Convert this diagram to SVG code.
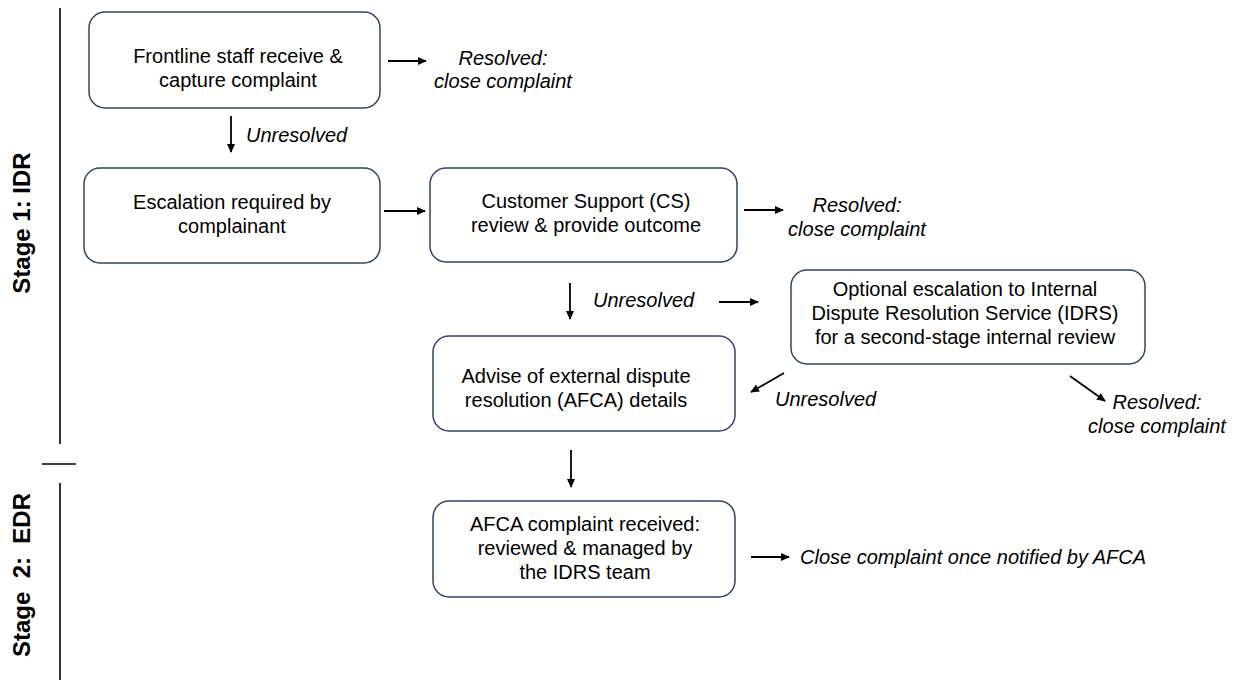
<svg xmlns="http://www.w3.org/2000/svg" width="1237" height="680" viewBox="0 0 1237 680">
<style>
.box{fill:#ffffff;stroke:#2f4468;stroke-width:1.5}
.t{font-family:"Liberation Sans",Arial,sans-serif;font-size:20px;fill:#000;text-anchor:middle}
.i{font-family:"Liberation Sans",Arial,sans-serif;font-size:20px;font-style:italic;fill:#000}
.c{text-anchor:middle}
.stage{font-family:"Liberation Sans",Arial,sans-serif;font-size:24px;font-weight:bold;fill:#000;text-anchor:middle}
.ln{stroke:#000;stroke-width:1.6;fill:none}
.arr{stroke:#000;stroke-width:1.8;fill:none;marker-end:url(#ah)}
</style>
<defs>
<marker id="ah" viewBox="0 0 10 10" refX="9" refY="5" markerWidth="5" markerHeight="5" orient="auto" markerUnits="strokeWidth">
<path d="M0,0.5 L10,5 L0,9.5 z" fill="#000"/>
</marker>
</defs>
<rect width="1237" height="680" fill="#ffffff"/>

<g id="stages">
<line class="ln" x1="60" y1="8" x2="60" y2="444"/>
<line class="ln" x1="42" y1="464" x2="76" y2="464"/>
<line class="ln" x1="60" y1="483" x2="60" y2="680"/>
<text class="stage" transform="translate(30,223) rotate(-90)">Stage 1: IDR</text>
<text class="stage" xml:space="preserve" transform="translate(30,575) rotate(-90)">Stage  2:  EDR</text>
</g>

<g id="n1">
<rect class="box" x="89" y="12" width="291" height="96" rx="16"/>
<text class="t" x="238" y="63">Frontline staff receive &amp;</text>
<text class="t" x="238" y="87">capture complaint</text>
</g>
<g id="n1r">
<text class="i c" x="503" y="65">Resolved:</text>
<text class="i c" x="503" y="88">close complaint</text>
</g>

<g id="n2">
<rect class="box" x="84" y="168" width="296" height="95" rx="16"/>
<text class="t" x="232" y="209">Escalation required by</text>
<text class="t" x="232" y="233">complainant</text>
</g>

<g id="n3">
<rect class="box" x="430" y="168" width="307" height="94" rx="16"/>
<text class="t" x="586" y="208">Customer Support (CS)</text>
<text class="t" x="586" y="232">review &amp; provide outcome</text>
</g>
<g id="n3r">
<text class="i c" x="857" y="212">Resolved:</text>
<text class="i c" x="857" y="236">close complaint</text>
</g>

<g id="n4">
<rect class="box" x="791" y="270" width="354" height="94" rx="16"/>
<text class="t" x="965" y="296">Optional escalation to Internal</text>
<text class="t" x="965" y="320">Dispute Resolution Service (IDRS)</text>
<text class="t" x="965" y="344">for a second-stage internal review</text>
</g>
<g id="n4r">
<text class="i c" x="1157" y="409">Resolved:</text>
<text class="i c" x="1157" y="433">close complaint</text>
</g>

<g id="n5">
<rect class="box" x="433" y="336" width="302" height="95" rx="16"/>
<text class="t" x="576" y="383">Advise of external dispute</text>
<text class="t" x="576" y="407">resolution (AFCA) details</text>
</g>

<g id="n6">
<rect class="box" x="433" y="501" width="302" height="96" rx="16"/>
<text class="t" x="585" y="531">AFCA complaint received:</text>
<text class="t" x="585" y="555">reviewed &amp; managed by</text>
<text class="t" x="585" y="579">the IDRS team</text>
</g>
<g id="n6r">
<text class="i" x="800" y="564">Close complaint once notified by AFCA</text>
</g>

<g id="connectors">
<line class="arr" x1="388" y1="61" x2="426" y2="61"/>
<line class="arr" x1="231" y1="116" x2="231" y2="152"/>
<text class="i" x="246" y="142">Unresolved</text>
<line class="arr" x1="384" y1="211" x2="425" y2="211"/>
<line class="arr" x1="744" y1="210" x2="783" y2="210"/>
<line class="arr" x1="570" y1="283" x2="570" y2="319"/>
<text class="i" x="593" y="307">Unresolved</text>
<line class="arr" x1="719" y1="302" x2="758" y2="302"/>
<line class="arr" x1="784" y1="373" x2="751" y2="392"/>
<text class="i" x="775" y="406">Unresolved</text>
<line class="arr" x1="1070" y1="376" x2="1105" y2="401"/>
<line class="arr" x1="571" y1="450" x2="571" y2="487"/>
<line class="arr" x1="751" y1="557" x2="789" y2="557"/>
</g>
</svg>
